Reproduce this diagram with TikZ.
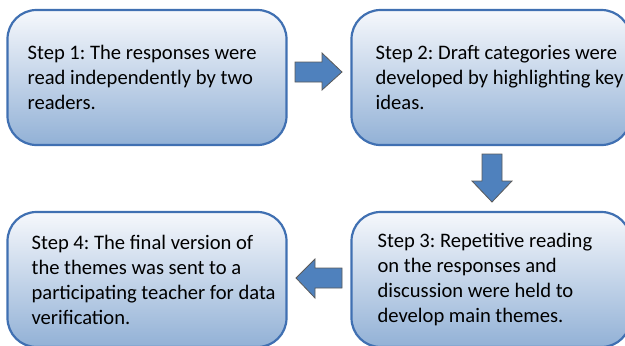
\documentclass[tikz,border=0pt]{standalone}
\usepackage{fontspec}
\setmainfont{Carlito}
\frenchspacing
\definecolor{boxline}{RGB}{64,112,178}
\definecolor{boxtop}{RGB}{246,248,252}
\definecolor{boxbot}{RGB}{146,177,214}
\definecolor{arrfill}{RGB}{79,129,189}
\definecolor{arrline}{RGB}{90,90,90}
\tikzset{
  stepbox/.style={draw=boxline, line width=2.2pt, rounded corners=29pt,
    top color=boxtop, bottom color=boxbot, minimum width=279pt,
    minimum height=135pt, inner sep=0pt},
  steptext/.style={anchor=west, align=left, inner sep=0pt,
    font=\fontsize{20.6pt}{25pt}\selectfont\frenchspacing, text=black},
  blockarrow/.style={fill=arrfill, draw=arrline, line width=0.8pt}
}
\begin{document}
\begin{tikzpicture}[x=1pt,y=-1pt]
\useasboundingbox (0,0) rectangle (625,346);
\clip (0,0) rectangle (625,346);
\node[stepbox] (b1) at (147,77.5) {};
\node[stepbox] (b2) at (491,77.5) {};
\node[stepbox] (b3) at (491,279.5) {};
\node[stepbox] (b4) at (147,279.5) {};
\node[steptext] (t1) at ([xshift=21pt]b1.west) {Step 1: The responses were\\read independently by two\\readers.};
\node[steptext] (t2) at ([xshift=25pt]b2.west) {Step 2: Draft categories were\\developed by highlighting key\\ideas.};
\node[steptext] (t3) at ([xshift=27pt]b3.west) {Step 3: Repetitive reading\\on the responses and\\discussion were held to\\develop main themes.};
\node[steptext] (t4) at ([xshift=25pt]b4.west) {Step 4: The final version of\\the themes was sent to a\\participating teacher for data\\verification.};
% block arrows between steps
\draw[blockarrow] (295,62) -- (322,62) -- (322,53) -- (342,72) -- (322,90) -- (322,82) -- (295,82) -- cycle;
\draw[blockarrow] (482,154) -- (502,154) -- (502,181) -- (512,181) -- (492,202) -- (472,181) -- (482,181) -- cycle;
\draw[blockarrow] (342,268) -- (315,268) -- (315,259) -- (296,278) -- (315,298) -- (315,288) -- (342,288) -- cycle;
\end{tikzpicture}
\end{document}
